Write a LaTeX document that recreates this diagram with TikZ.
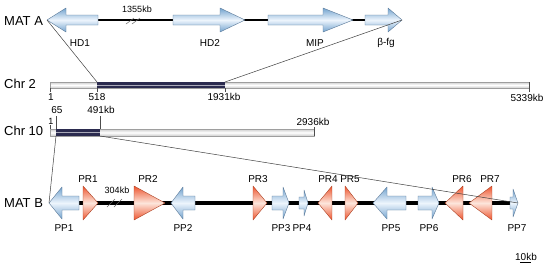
\documentclass[tikz,border=0pt]{standalone}
\usepackage{fontspec}
\setmainfont{Liberation Sans}
\begin{document}
\begin{tikzpicture}[x=1pt, y=-1pt, line join=round]
% MAT loci drawn on a 550 x 268 pixel grid (y runs down)
\definecolor{matGeneFill}{rgb}{0.45,0.64,0.81}
\definecolor{matGeneLight}{rgb}{0.93,0.96,0.99}
\definecolor{matGeneEdge}{rgb}{0.36,0.48,0.60}
\definecolor{matRecFill}{rgb}{0.93,0.33,0.18}
\definecolor{matRecLight}{rgb}{0.99,0.90,0.86}
\definecolor{matRecEdge}{rgb}{0.68,0.26,0.14}
\definecolor{matChrFill}{rgb}{0.80,0.80,0.80}
\definecolor{matChrEdge}{rgb}{0.62,0.62,0.62}
\definecolor{matChrDark}{rgb}{0.17,0.17,0.31}
\definecolor{matLink}{rgb}{0.25,0.25,0.25}
\tikzset{
  gene/.style={draw=matGeneEdge, line width=0.4pt, top color=matGeneFill, bottom color=matGeneFill, middle color=matGeneLight},
  receptor/.style={draw=matRecEdge, line width=0.4pt, top color=matRecFill, bottom color=matRecFill, middle color=matRecLight},
  locus/.style={draw=black, line width=#1},
  chrbar/.style={draw=matChrEdge, line width=0.4pt, top color=matChrFill, bottom color=matChrFill, middle color=white},
  chrseg/.style={fill=matChrDark},
  tick/.style={draw=black!70, line width=0.4pt},
  brk/.style={draw=black!60, line width=0.5pt},
  link/.style={draw=matLink, line width=0.5pt},
  rowlbl/.style={anchor=west, inner sep=0pt, font=\fontsize{13}{15}\selectfont},
  lbl/.style={inner sep=0pt, font=\fontsize{10}{12}\selectfont},
  small/.style={inner sep=0pt, font=\fontsize{9}{11}\selectfont}
}
\useasboundingbox (0,0) rectangle (550,268);
\fill[white] (0,0) rectangle (550,268);
% gene arrows and receptor triangles on row \rowy
\def\geneR#1#2#3#4{% name, body start, head base, tip
  \path[gene] (#2,\rowy-\bh) -- (#3,\rowy-\bh) -- (#3,\rowy-\hh) -- (#4,\rowy)
    -- (#3,\rowy+\hh) -- (#3,\rowy+\bh) -- (#2,\rowy+\bh) -- cycle;
  \coordinate (#1) at (#4,\rowy);}
\def\geneL#1#2#3#4{% name, tip, head base, body end
  \path[gene] (#2,\rowy) -- (#3,\rowy-\hh) -- (#3,\rowy-\bh) -- (#4,\rowy-\bh)
    -- (#4,\rowy+\bh) -- (#3,\rowy+\bh) -- (#3,\rowy+\hh) -- cycle;
  \coordinate (#1) at (#2,\rowy);}
\def\recR#1#2#3{% name, base, tip
  \path[receptor] (#2,\rowy-\th) -- (#3,\rowy) -- (#2,\rowy+\th) -- cycle;
  \coordinate (#1) at (#3,\rowy);}
\def\recL#1#2#3{% name, tip, base
  \path[receptor] (#3,\rowy-\th) -- (#2,\rowy) -- (#3,\rowy+\th) -- cycle;
  \coordinate (#1) at (#2,\rowy);}

% ---- MAT A ----
\def\rowy{20}\def\bh{5}\def\hh{12}
\node[rowlbl] (matA) at (4,21) {MAT A};
\path[locus=2.5pt] (98,20) -- (365,20);
\draw[brk] (126,24) -- (134,18) (132,24) -- (140,18);
\node[small] (kbA) at (137,9) {1355kb};
\geneL{hd1}{47}{66}{98}
\geneR{hd2}{173}{220}{245}
\geneR{mip}{268}{323}{353}
\geneR{bfg}{365}{388}{402}
\node[lbl] (lhd1) at (80,43) {HD1};
\node[lbl] (lhd2) at (210,43) {HD2};
\node[lbl] (lmip) at (315,43) {MIP};
\node[lbl] (lbfg) at (386,43) {β-fg};

% ---- Chr 2 ----
\node[rowlbl] (chr2) at (4,84) {Chr 2};
\path[chrbar] (50,82) rectangle (529,88);
\fill[chrseg] (97,82) rectangle (225,88);
\draw[draw=white!60!matChrDark, line width=0.8pt] (97,85) -- (225,85);
\coordinate (c2-518) at (97,82);
\coordinate (c2-1931) at (225,82);
\draw[tick] (50,88) -- (50,92) (97,88) -- (97,92) (225,88) -- (225,92) (529,82) -- (529,92);
\node[lbl] (c2l1) at (51,97) {1};
\node[lbl] (c2l518) at (97,97) {518};
\node[lbl] (c2l1931) at (224,97) {1931kb};
\node[lbl] (c2l5339) at (527,98) {5339kb};

% ---- Chr 10 ----
\node[rowlbl] (chr10) at (4,131) {Chr 10};
\path[chrbar] (50,129) rectangle (314,136);
\fill[chrseg] (56,129) rectangle (100,136);
\draw[draw=white!60!matChrDark, line width=0.8pt] (56,132.5) -- (100,132.5);
\coordinate (c10-65) at (56,136);
\coordinate (c10-491) at (100,136);
\draw[tick] (50,125) -- (50,129) (56,116) -- (56,129) (100,116) -- (100,129) (314,127) -- (314,136);
\node[small] (c10l1) at (51,121) {1};
\node[lbl] (c10l65) at (57,110) {65};
\node[lbl] (c10l491) at (101,110) {491kb};
\node[lbl] (c10l2936) at (313,122) {2936kb};

% ---- MAT B ----
\def\rowy{203}\def\bh{7}\def\hh{16}\def\th{17}
\node[rowlbl] (matB) at (4,203) {MAT B};
\path[locus=3.5pt] (79,203) -- (510,203);
\draw[brk] (107,207) -- (115,199) (114,207) -- (122,199);
\node[small] (kbB) at (117,190) {304kb};
\geneL{pp1}{49}{62}{79}
\recR{pr1}{83}{98}
\recR{pr2}{134}{165}
\geneL{pp2}{171}{183}{195}
\recR{pr3}{253}{267}
\geneR{pp3}{272}{283}{289}
\def\hh{13}\def\bh{6}
\geneR{pp4}{299}{304}{308}
\def\hh{16}\def\bh{7}
\recL{pr4}{318}{332}
\recR{pr5}{345}{358}
\geneL{pp5}{373}{387}{406}
\geneR{pp6}{418}{432}{439}
\recL{pr6}{445}{463}
\recL{pr7}{469}{492}
\def\hh{14}\def\bh{6}
\geneR{pp7}{510}{513}{518}
% labels above (PR) and below (PP)
\foreach \nm/\xx in {PR1/88, PR2/148, PR3/258, PR4/328, PR5/350, PR6/462, PR7/490}
  \node[lbl] (l\nm) at (\xx,179) {\nm};
\foreach \nm/\xx in {PP1/64, PP2/183, PP3/281, PP4/302, PP5/391, PP6/429, PP7/517}
  \node[lbl] (l\nm) at (\xx,228) {\nm};

% scale
\node[lbl] (scale) at (526,257) {10kb};
\draw[line width=1pt] ([xshift=5.5pt,yshift=-1.5pt]scale.south west) -- ([xshift=16pt,yshift=-1.5pt]scale.south west);

% zoom lines
\draw[link] (hd1) -- (c2-518);
\draw[link] (bfg) -- (c2-1931);
\draw[link] (c10-65) -- (pp1);
\draw[link] (c10-491) -- (pp7);
\end{tikzpicture}
\end{document}
